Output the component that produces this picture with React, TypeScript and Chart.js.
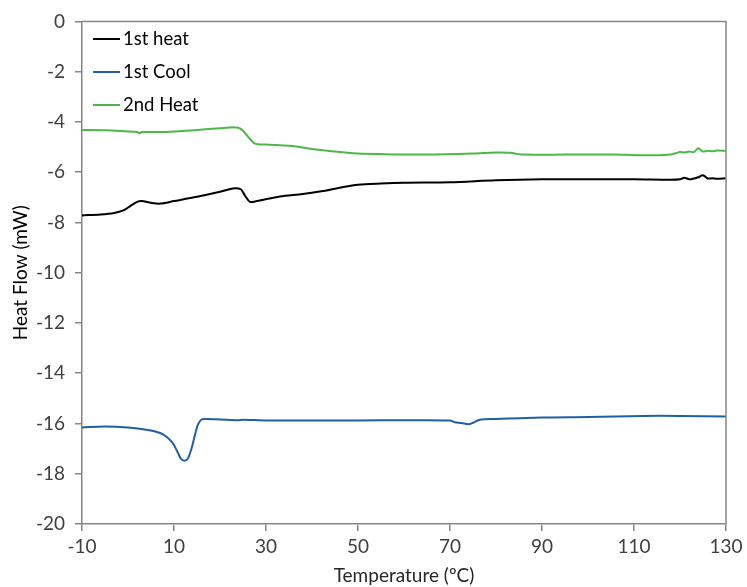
import React, { useEffect, useRef } from "react";
import { Chart, registerables } from "chart.js";

Chart.register(...registerables);

const xTicks = [-10, 10, 30, 50, 70, 90, 110, 130];
const yTicks = [0, -2, -4, -6, -8, -10, -12, -14, -16, -18, -20];

const heat1Temp = [-10, -6, -3, -1, 0.5, 2, 3, 5, 7, 10, 15, 20, 22.8, 24.5, 25.5, 26.5, 28, 33, 38, 42, 46, 50, 55, 60, 70, 80, 90, 100, 110, 118, 120, 121, 122, 123, 124, 125, 126, 127, 128, 130];
const heat1Flow = [-7.72, -7.68, -7.62, -7.52, -7.35, -7.18, -7.15, -7.22, -7.25, -7.15, -6.98, -6.78, -6.65, -6.68, -6.95, -7.18, -7.15, -6.97, -6.87, -6.76, -6.62, -6.5, -6.45, -6.42, -6.4, -6.32, -6.28, -6.28, -6.28, -6.3, -6.28, -6.22, -6.28, -6.25, -6.2, -6.12, -6.25, -6.24, -6.26, -6.24];

const coolTemp = [-10, -5, 0, 4, 7, 8.5, 9.8, 10.8, 11.5, 12.2, 13, 13.8, 14.5, 15.2, 16, 17, 20, 24, 25, 30, 40, 50, 60, 70, 71, 72.5, 74, 75, 76.5, 80, 90, 100, 112, 120, 130];
const coolFlow = [-16.16, -16.12, -16.16, -16.25, -16.38, -16.55, -16.8, -17.15, -17.4, -17.48, -17.4, -17.0, -16.5, -16.05, -15.84, -15.82, -15.84, -15.87, -15.85, -15.88, -15.88, -15.88, -15.87, -15.88, -15.95, -15.98, -16.03, -15.97, -15.85, -15.82, -15.76, -15.74, -15.7, -15.7, -15.72];

const heat2Temp = [-10, -5, 0, 2, 2.5, 3, 8, 15, 20, 22, 24, 25, 27.5, 30, 35, 42, 49, 55, 65, 75, 80, 83, 86, 95, 105, 115, 118, 119, 120, 121, 122, 123, 124, 125, 126, 127, 128, 130];
const heat2Flow = [-4.32, -4.33, -4.38, -4.4, -4.45, -4.4, -4.4, -4.32, -4.25, -4.22, -4.23, -4.35, -4.85, -4.9, -4.95, -5.12, -5.25, -5.28, -5.3, -5.26, -5.22, -5.23, -5.3, -5.3, -5.3, -5.33, -5.3, -5.25, -5.2, -5.22, -5.18, -5.2, -5.05, -5.18, -5.15, -5.17, -5.14, -5.15];

const seriesNames = ["1st heat", "1st Cool", "2nd Heat"];
const seriesColors = ["#000000", "#1f5fa8", "#4db848"];

const FONT = "Lato, 'Open Sans', sans-serif";

function pts(xs: number[], ys: number[]) {
  return xs.map((x, i) => ({ x, y: ys[i] }));
}

const boxPlugin = {
  id: "plotBox",
  afterDraw(chart: any) {
    const { ctx, chartArea } = chart;
    ctx.save();
    ctx.strokeStyle = "#868686";
    ctx.lineWidth = 1.5;
    ctx.beginPath();
    ctx.moveTo(chartArea.left, chartArea.top);
    ctx.lineTo(chartArea.right, chartArea.top);
    ctx.lineTo(chartArea.right, chartArea.bottom);
    ctx.stroke();
    ctx.restore();
  },
};

const legendPlugin = {
  id: "insideLegend",
  afterDraw(chart: any) {
    const { ctx, chartArea } = chart;
    ctx.save();
    const x0 = chartArea.left + 11;
    const rows = [39, 72, 105];
    chart.data.datasets.forEach((ds: any, i: number) => {
      const y = rows[i];
      ctx.strokeStyle = ds.borderColor;
      ctx.lineWidth = 2;
      ctx.beginPath();
      ctx.moveTo(x0, y);
      ctx.lineTo(x0 + 27, y);
      ctx.stroke();
      ctx.fillStyle = "#000000";
      ctx.font = `18.5px ${FONT}`;
      ctx.textBaseline = "middle";
      ctx.textAlign = "left";
      ctx.fillText(ds.label, x0 + 30, y);
    });
    ctx.restore();
  },
};

export default function App() {
  const ref = useRef<HTMLCanvasElement | null>(null);
  useEffect(() => {
    document.body.style.margin = "0";
    if (!ref.current) return;
    const xs = [heat1Temp, coolTemp, heat2Temp];
    const ys = [heat1Flow, coolFlow, heat2Flow];
    const chart = new Chart(ref.current, {
      type: "line",
      data: {
        datasets: seriesNames.map((name, i) => ({
          label: name,
          data: pts(xs[i], ys[i]),
          borderColor: seriesColors[i],
          backgroundColor: seriesColors[i],
          borderWidth: 2,
          pointRadius: 0,
          tension: 0.3,
          fill: false,
        })),
      },
      options: {
        animation: false,
        responsive: true,
        maintainAspectRatio: false,
        layout: { padding: { top: 19, right: 21, left: 9, bottom: 0 } },
        plugins: {
          legend: { display: false },
          tooltip: { enabled: false },
        },
        scales: {
          x: {
            type: "linear",
            min: -10,
            max: 130,
            afterBuildTicks: (s: any) => {
              s.ticks = xTicks.map((v) => ({ value: v }));
            },
            afterFit: (s: any) => {
              s.height = 63;
            },
            grid: { drawOnChartArea: false, drawTicks: true, tickLength: 7, color: "#868686", lineWidth: 1.5 },
            border: { color: "#868686", width: 1.5 },
            ticks: { color: "#404040", font: { family: FONT, size: 19 }, padding: 4, maxRotation: 0, autoSkip: false },
            title: { display: true, text: "Temperature (ºC)", color: "#262626", font: { family: FONT, size: 19 }, padding: { top: 0, bottom: 0 } },
          },
          y: {
            type: "linear",
            min: -20,
            max: 0,
            afterBuildTicks: (s: any) => {
              s.ticks = yTicks.map((v) => ({ value: v }));
            },
            afterFit: (s: any) => {
              s.width = 73;
            },
            grid: { drawOnChartArea: false, drawTicks: true, tickLength: 7, color: "#868686", lineWidth: 1.5 },
            border: { color: "#868686", width: 1.5 },
            ticks: { color: "#404040", font: { family: FONT, size: 19 }, padding: 10, autoSkip: false },
            title: { display: true, text: "Heat Flow (mW)", color: "#000000", font: { family: FONT, size: 19 }, padding: { top: 0, bottom: 0 } },
          },
        },
      },
      plugins: [boxPlugin, legendPlugin],
    });
    return () => chart.destroy();
  }, []);
  return (
    <div style={{ position: "absolute", left: 0, top: 0, width: 747, height: 587 }}>
      <canvas ref={ref} />
    </div>
  );
}
